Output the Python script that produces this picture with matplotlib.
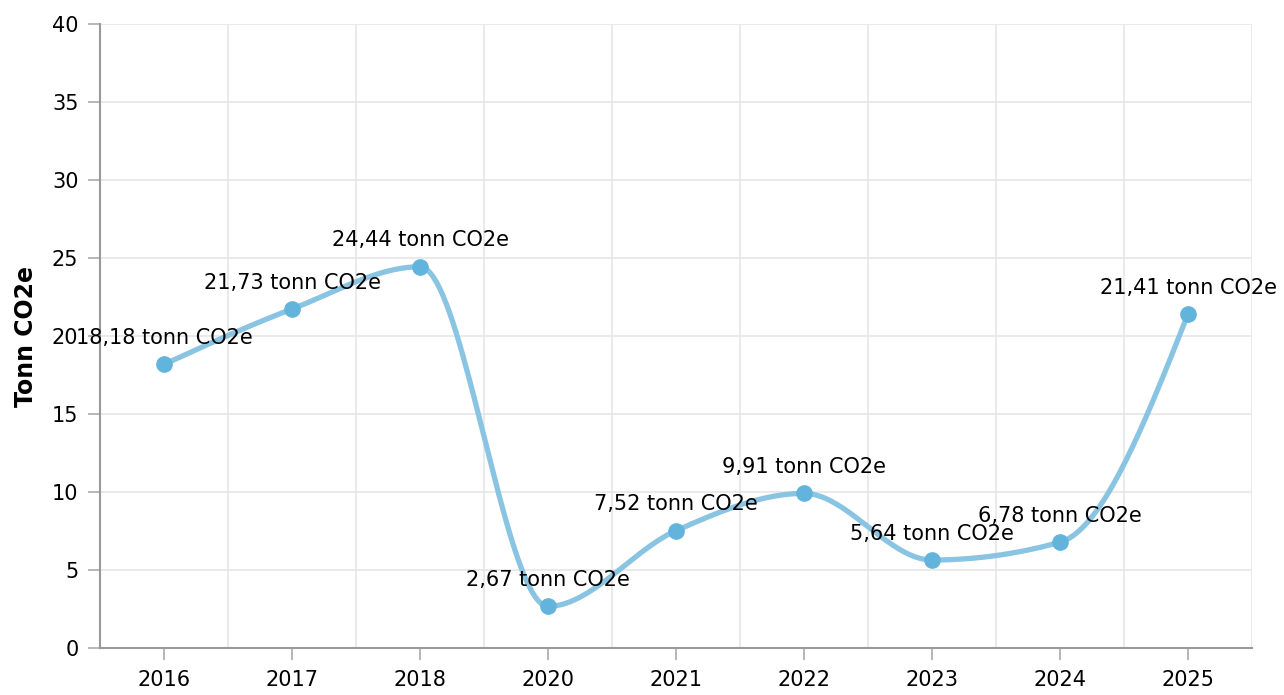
import numpy as np
import matplotlib.pyplot as plt

# Data
years = ["2016", "2017", "2018", "2020", "2021", "2022", "2023", "2024", "2025"]
values = [18.18, 21.73, 24.44, 2.67, 7.52, 9.91, 5.64, 6.78, 21.41]
labels = ["18,18 tonn CO2e", "21,73 tonn CO2e", "24,44 tonn CO2e", "2,67 tonn CO2e",
          "7,52 tonn CO2e", "9,91 tonn CO2e", "5,64 tonn CO2e", "6,78 tonn CO2e",
          "21,41 tonn CO2e"]


def monotone(xs, ys, n=40):
    # monoton kubisk kurve (Steffen) gjennom punktene, kun for tegning
    xs = np.asarray(xs, float)
    ys = np.asarray(ys, float)
    h = np.diff(xs)
    s = np.diff(ys) / h
    m = np.zeros(len(xs))
    for i in range(1, len(xs) - 1):
        p = (s[i - 1] * h[i] + s[i] * h[i - 1]) / (h[i - 1] + h[i])
        m[i] = (np.sign(s[i - 1]) + np.sign(s[i])) * min(abs(s[i - 1]), abs(s[i]), 0.5 * abs(p))
    m[0] = (3 * s[0] - m[1]) / 2 if len(xs) > 2 else s[0]
    m[-1] = (3 * s[-1] - m[-2]) / 2
    out_x, out_y = [], []
    t = np.linspace(0, 1, n)
    for i in range(len(xs) - 1):
        h00 = 2 * t ** 3 - 3 * t ** 2 + 1
        h10 = t ** 3 - 2 * t ** 2 + t
        h01 = -2 * t ** 3 + 3 * t ** 2
        h11 = t ** 3 - t ** 2
        out_x.extend(xs[i] + t * h[i])
        out_y.extend(h00 * ys[i] + h10 * h[i] * m[i] + h01 * ys[i + 1] + h11 * h[i] * m[i + 1])
    return np.array(out_x), np.array(out_y)


x = np.arange(len(years))
sx, sy = monotone(x, values)

fig = plt.figure(figsize=(12.84, 6.95), dpi=100)
ax = fig.add_axes([100 / 1284, 1 - 648 / 695, 1152 / 1284, 624 / 695])

ax.plot(sx, sy, color="#89c4e2", lw=3.8, solid_capstyle="round", zorder=3)
ax.plot(x, values, "o", color="#63b4dc", ms=11, zorder=4)

for xi, v, lab in zip(x, values, labels):
    ax.annotate(lab, (xi, v), xytext=(0, 19), textcoords="offset points",
                ha="center", va="center", fontsize=15, color="black",
                zorder=5, annotation_clip=False)

ax.set_xlim(-0.5, len(years) - 0.5)
ax.set_ylim(0, 40)
ax.set_yticks(range(0, 41, 5))
ax.set_xticks(x)
ax.set_xticklabels(years)
ax.set_xticks(np.arange(-0.5, len(years), 1), minor=True)

ax.grid(True, which="minor", axis="x", color="#e6e6e6", lw=1.2)
ax.grid(True, which="major", axis="y", color="#e6e6e6", lw=1.2)
ax.tick_params(axis="x", which="minor", length=0)
ax.tick_params(axis="both", which="major", length=8.5, width=1.2, color="#aaaaaa",
               labelsize=15, pad=7)
ax.set_axisbelow(True)

for s in ["top", "right"]:
    ax.spines[s].set_visible(False)
for s in ["left", "bottom"]:
    ax.spines[s].set_color("#999999")
    ax.spines[s].set_linewidth(1.5)

ax.set_ylabel("Tonn CO2e", fontsize=17, fontweight="bold", labelpad=10)

plt.savefig("out.png", dpi=100)
